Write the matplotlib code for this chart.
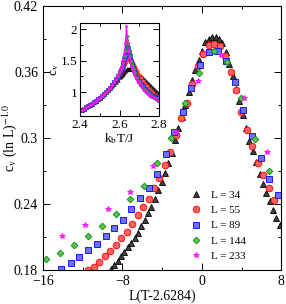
import numpy as np
import matplotlib
matplotlib.use("Agg")
import matplotlib.pyplot as plt
from matplotlib.ticker import MultipleLocator

plt.rcParams["font.family"] = ["Liberation Serif", "DejaVu Serif"]
plt.rcParams["mathtext.fontset"] = "stix"

labels = ["L = 34", "L = 55", "L = 89", "L = 144", "L = 233"]

# main panel: scaled data, x = L(T-Tc), y = c_v (ln L)^-1
x34 = [-9.13, -8.8, -8.47, -8.13, -7.8, -7.46, -7.12, -6.78, -6.44, -6.1, -5.76, -5.42,
       -5.08, -4.74, -4.4, -4.06, -3.72, -3.38, -3.04, -2.7, -2.36, -2.02, -1.68, -1.34,
       -1.0, -0.66, -0.32, 0.02, 0.36, 0.7, 1.04, 1.38, 1.72, 2.06, 2.4, 2.74, 3.08, 3.42,
       3.76, 4.1, 4.44, 4.78, 5.12, 5.46, 5.8, 6.14, 6.48, 6.82, 7.16, 7.5, 7.84]
y34 = [0.1809, 0.1846, 0.1885, 0.1925, 0.1966, 0.2007, 0.2048, 0.2093, 0.2143, 0.2202,
       0.2261, 0.2316, 0.2379, 0.2443, 0.2525, 0.2606, 0.2684, 0.2770, 0.2865, 0.2979,
       0.3088, 0.3192, 0.3301, 0.3415, 0.3524, 0.3619, 0.3710, 0.3796, 0.3873, 0.3905,
       0.3916, 0.3916, 0.3900, 0.3864, 0.3782, 0.3678, 0.3564, 0.3446, 0.3337, 0.3215,
       0.3092, 0.2970, 0.2879, 0.2788, 0.2679, 0.2588, 0.2502, 0.2425, 0.2348, 0.2275,
       0.2211]

x55 = [-11.42, -10.87, -10.32, -9.77, -9.22, -8.67, -8.12, -7.57, -7.02, -6.47, -5.92,
       -5.37, -4.82, -4.27, -3.72, -3.17, -2.62, -2.07, -1.52, -0.97, -0.42, 0.13, 0.68,
       1.23, 1.78, 2.33, 2.88, 3.43, 3.98, 4.53, 5.08, 5.63, 6.18, 6.73, 7.28]
y55 = [0.1801, 0.1828, 0.1874, 0.1925, 0.1978, 0.2032, 0.2091, 0.2152, 0.2223, 0.2298,
       0.2375, 0.2448, 0.2547, 0.2638, 0.2756, 0.2874, 0.3029, 0.3183, 0.3319, 0.3492,
       0.3655, 0.3764, 0.3846, 0.3859, 0.3837, 0.3746, 0.3601, 0.3437, 0.3238, 0.3074,
       0.2929, 0.2774, 0.2665, 0.2547, 0.2438]

x89 = [-14.13, -13.2, -12.33, -11.47, -10.57, -9.7, -8.85, -7.97, -7.13, -6.25, -5.37,
       -4.53, -3.63, -2.78, -1.95, -1.07, -0.2, 0.68, 1.6, 2.4, 3.35, 4.15, 5.02, 5.9,
       6.77, 7.63]
y89 = [0.1809, 0.1866, 0.1918, 0.1982, 0.2034, 0.2107, 0.2182, 0.2257, 0.2357, 0.2455,
       0.2545, 0.2675, 0.2856, 0.3059, 0.3238, 0.3453, 0.3664, 0.3782, 0.3793, 0.3705,
       0.3512, 0.3259, 0.3017, 0.2817, 0.2629, 0.2484]

x144 = [-15.7, -14.27, -12.87, -11.47, -10.07, -8.67, -7.28, -5.87, -4.47, -3.07, -1.67,
        -0.27, 1.17, 2.55, 3.9, 5.35, 6.8]
y144 = [0.1901, 0.1960, 0.2027, 0.2114, 0.2201, 0.2311, 0.2443, 0.2567, 0.2772, 0.3004,
        0.3317, 0.3594, 0.3791, 0.3694, 0.3367, 0.2995, 0.2702]

x233 = [-14.03, -11.73, -9.47, -7.2, -4.97, -2.63, -0.35, 1.93, 4.23, 6.5]
y233 = [0.2112, 0.2209, 0.2354, 0.2514, 0.2750, 0.3059, 0.3522, 0.3760, 0.3367, 0.2877]

# inset: raw c_v against k_b T/J
T_in = [2.40, 2.41, 2.42, 2.43, 2.44, 2.45, 2.46, 2.47, 2.48, 2.49, 2.50, 2.51, 2.52,
        2.53, 2.54, 2.55, 2.56, 2.57, 2.58, 2.59, 2.60, 2.605, 2.61, 2.615, 2.62, 2.625,
        2.63, 2.635, 2.64, 2.645, 2.65, 2.655, 2.66, 2.665, 2.67, 2.675, 2.68, 2.69, 2.70,
        2.71, 2.72, 2.73, 2.74, 2.75, 2.76, 2.77, 2.78, 2.79, 2.80]
low = [0.71, 0.725, 0.74, 0.76, 0.78, 0.80, 0.82, 0.84, 0.865, 0.89, 0.915, 0.94, 0.97,
       1.0, 1.035, 1.07]
cv34 = low + [1.10, 1.13, 1.165, 1.20, 1.235, 1.25, 1.27, 1.285, 1.30, 1.315, 1.33, 1.345,
              1.36, 1.37, 1.375, 1.375, 1.37, 1.365, 1.36, 1.35, 1.34, 1.31, 1.28, 1.25,
              1.22, 1.19, 1.16, 1.13, 1.10, 1.07, 1.04, 1.01, 0.98]
cv55 = low + [1.11, 1.15, 1.19, 1.24, 1.29, 1.315, 1.34, 1.37, 1.40, 1.43, 1.46, 1.49,
              1.52, 1.545, 1.55, 1.535, 1.51, 1.48, 1.45, 1.42, 1.39, 1.33, 1.27, 1.22,
              1.17, 1.13, 1.09, 1.05, 1.02, 0.99, 0.96, 0.93, 0.90]
cv89 = low + [1.12, 1.16, 1.21, 1.26, 1.32, 1.35, 1.39, 1.43, 1.47, 1.52, 1.58, 1.65,
              1.71, 1.70, 1.64, 1.57, 1.50, 1.44, 1.39, 1.35, 1.31, 1.24, 1.18, 1.13,
              1.09, 1.05, 1.02, 0.99, 0.96, 0.94, 0.92, 0.90, 0.88]
cv144 = low + [1.12, 1.16, 1.21, 1.27, 1.33, 1.37, 1.41, 1.46, 1.51, 1.58, 1.67, 1.80,
               1.89, 1.78, 1.66, 1.57, 1.49, 1.43, 1.38, 1.34, 1.30, 1.22, 1.16, 1.11,
               1.07, 1.03, 1.00, 0.97, 0.95, 0.93, 0.91, 0.89, 0.87]
cv233 = low + [1.12, 1.16, 1.21, 1.27, 1.33, 1.37, 1.42, 1.47, 1.53, 1.62, 1.78, 2.05,
               1.83, 1.65, 1.55, 1.48, 1.42, 1.37, 1.33, 1.29, 1.26, 1.20, 1.14, 1.09,
               1.05, 1.02, 0.99, 0.96, 0.94, 0.92, 0.90, 0.88, 0.86]

styles = [
    dict(marker="^", mfc="#404040", mec="black", color="black", ms=4.6),
    dict(marker="o", mfc="#ff6060", mec="#ff0000", color="#ff0000", ms=4.8),
    dict(marker="s", mfc="#6f6fff", mec="#0000ff", color="#0000ff", ms=4.0),
    dict(marker="D", mfc="#5cc05c", mec="#008c00", color="#008c00", ms=3.4),
    dict(marker="*", mfc="#ff40ff", mec="#ff00ff", color="#ff00ff", ms=4.4),
]

fig = plt.figure(figsize=(2.86, 3.04), dpi=100)
ax = fig.add_axes([0.150, 0.111, 0.834, 0.869])

main_x = [x34, x55, x89, x144, x233]
main_y = [y34, y55, y89, y144, y233]
for xs, ys, st, lab in zip(main_x, main_y, styles, labels):
    ax.plot(xs, ys, ls="none", marker=st["marker"], mfc=st["mfc"], mec=st["mec"],
            mew=0.6, ms=st["ms"], label=lab)

ax.set_xlim(-16, 8)
ax.set_ylim(0.18, 0.42)
ax.xaxis.set_major_locator(MultipleLocator(8))
ax.xaxis.set_minor_locator(MultipleLocator(4))
ax.yaxis.set_minor_locator(MultipleLocator(0.03))
ax.tick_params(which="both", direction="in", top=True, right=True, labelsize=10)
ax.tick_params(which="major", length=5, width=0.7)
ax.tick_params(which="minor", length=2.5, width=0.7)
ax.set_yticks([0.18, 0.24, 0.3, 0.36, 0.42])
ax.set_yticklabels(["0.18", "0.24", "0.3", "0.36", "0.42"])
ax.set_xlabel("L(T-2.6284)", fontsize=10, labelpad=1)
ax.set_ylabel(r"c$_{\rm v}$ (ln L)$^{-1.0}$", fontsize=10)
ax.yaxis.set_label_coords(-0.10, 0.5)
for s in ax.spines.values():
    s.set_linewidth(0.8)

ax.legend(loc="upper left", bbox_to_anchor=(0.595, 0.325), frameon=False, fontsize=8,
          handlelength=1.0, handletextpad=0.9, labelspacing=0.5, borderpad=0)

# inset
ins = fig.add_axes([0.280, 0.618, 0.276, 0.307])
inset_cv = [cv34, cv55, cv89, cv144, cv233]
for cv, st in zip(inset_cv, styles):
    ins.plot(T_in, cv, color=st["color"], lw=0.8, marker=st["marker"], mfc=st["mfc"],
             mec=st["mec"], mew=0.4, ms=st["ms"] * 0.55)
ins.set_xlim(2.4, 2.8)
ins.set_ylim(0.62, 2.1)
ins.xaxis.set_major_locator(MultipleLocator(0.2))
ins.xaxis.set_minor_locator(MultipleLocator(0.1))
ins.yaxis.set_minor_locator(MultipleLocator(0.25))
ins.set_yticks([1, 1.5, 2])
ins.set_yticklabels(["1", "1.5", "2"])
ins.tick_params(which="both", direction="in", top=True, right=True, labelsize=9.5, pad=2)
ins.tick_params(which="major", length=4, width=0.7)
ins.tick_params(which="minor", length=2, width=0.7)
ins.set_xlabel(r"k$_{\rm b}$T/J", fontsize=9.5, labelpad=0)
ins.set_ylabel(r"c$_{\rm v}$", fontsize=9.5, labelpad=0)
for s in ins.spines.values():
    s.set_linewidth(0.8)

fig.savefig("out.png", dpi=100)
